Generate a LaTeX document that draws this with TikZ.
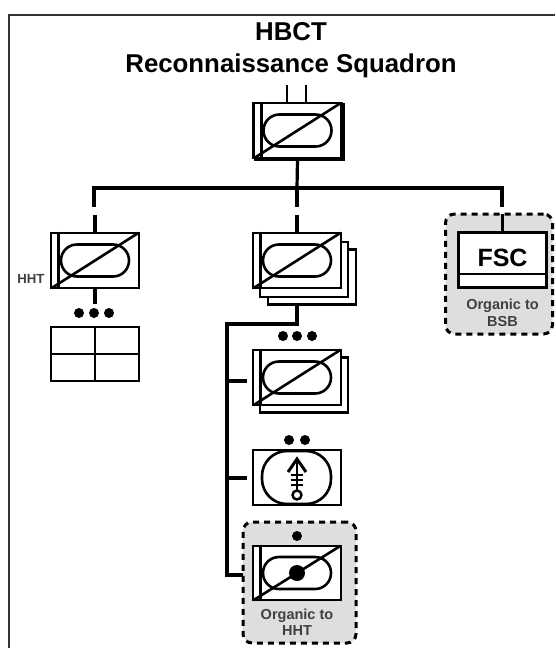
\documentclass[tikz,border=0pt]{standalone}
\usepackage{fontspec}
\setmainfont{Liberation Sans}
\usetikzlibrary{arrows.meta,positioning,calc}

\definecolor{labelgrey}{gray}{0.25}
\definecolor{organicgrey}{gray}{0.87}

\tikzset{
    unit/.style={draw, line width=2.6pt, fill=white, minimum width=88pt, minimum height=55pt, inner sep=0pt},
    link/.style={line width=3.2pt},
    symbol/.style={line width=2.6pt},
    bullet/.style={circle, fill=black, draw=none, minimum size=10pt, inner sep=0pt},
    organic/.style={draw, fill=organicgrey, line width=3pt, dash pattern=on 6pt off 5pt, rounded corners=9pt},
    small label/.style={align=center, font=\fontsize{14.5}{16.5}\selectfont\bfseries, text=labelgrey, inner sep=0pt}
}

% slashed oval with the bar at the left side
\newcommand{\reconmark}[1]{
    \draw[symbol] ($(#1.north west)+(9,0)$) -- ($(#1.south west)+(9,0)$);
    \draw[symbol, rounded corners=15.9pt] ($(#1.center)+(-34,-16)$) rectangle ($(#1.center)+(34,16)$);
    \draw[symbol, shorten >=2pt, shorten <=2pt] (#1.south west) -- (#1.north east);
}

\begin{document}
\begin{tikzpicture}[x=1pt, y=-1pt]
    \useasboundingbox (0,0) rectangle (555,648);

    % frame
    \coordinate (framea) at (555,15);
    \coordinate (frameb) at (9,648);
    \draw[line width=2.4pt, black!80] (framea) -| (frameb);

    % title
    \node[font=\fontsize{25.8}{32}\selectfont\bfseries, align=center, inner sep=0pt] (title) at (291,50) {HBCT\\Reconnaissance Squadron};

    % organic backgrounds
    \node[organic, minimum width=113pt, minimum height=121pt, inner sep=0pt] (hhtbox) at (299.5,582.5) {};
    \node[organic, minimum width=107pt, minimum height=120pt, inner sep=0pt] (fscbox) at (499,274) {};

    % squadron
    \node[unit] (sqdnback) at (299.5,132) {};
    \node[unit] (sqdn) at (297.5,130.5) {};
    \reconmark{sqdn}

    % troops
    \node[unit] (hht) at (95,260.5) {};
    \reconmark{hht}
    \node[small label, font=\fontsize{13.2}{16}\selectfont\bfseries, left=5pt of hht.south west, yshift=10pt] (hhtlabel) {HHT};
    \node[unit, minimum height=54pt] (cp) at (95,354) {};
    \draw[symbol] (cp.north) -- (cp.south) (cp.west) -- (cp.east);

    \node[unit] (troopc) at (312,277) {};
    \node[unit] (troopb) at (304,269.5) {};
    \node[unit] (troop) at (297,260.5) {};
    \reconmark{troop}

    \node[unit] (pltb) at (304,385) {};
    \node[unit] (plt) at (297,377.5) {};
    \reconmark{plt}

    \node[unit] (mortar) at (297,477.5) {};
    \draw[symbol, rounded corners=25pt] (262,451) rectangle (331,504);
    \draw[symbol] (297,458) -- (297,490);
    \draw[line width=3pt] (288,472) -- (297,459) -- (306,472);
    \foreach \y in {475,480,485} {
        \draw[line width=2pt] (291,\y) -- (303,\y);
    }
    \node[circle, draw, line width=2.4pt, fill=white, minimum size=9pt, inner sep=0pt] (mortarbase) at (297,495) {};

    \node[unit, minimum height=54pt] (scout) at (297,573) {};
    \reconmark{scout}
    \node[circle, fill=black, minimum size=16pt, inner sep=0pt] (scoutdot) at (297,573) {};

    \node[unit] (fsc) at (502.5,260) {\fontsize{25}{30}\selectfont\bfseries FSC\rule[-4pt]{0pt}{0pt}};
    \draw[symbol] ($(fsc.south west)+(0,-15)$) -- ($(fsc.south east)+(0,-15)$);

    % labels
    \node[small label, below=7pt of scout] (scoutlabel) {Organic to\\HHT};
    \node[small label, below=10pt of fsc] (fsclabel) {Organic to\\BSB};

    % echelon dots
    \foreach \n/\x/\y in {a/79/313, b/94/313, c/109/313, d/283/336, e/297/336, f/312/336, g/289/440, h/305/440} {
        \node[bullet] (dot\n) at (\x,\y) {};
    }
    \node[bullet] (dotscout) at (297,536) {};

    % wiring
    \coordinate (busc) at (297,188);
    \coordinate (busl) at (94,188);
    \coordinate (busr) at (502,188);
    \coordinate (spine) at (227,324);
    \draw[link] (sqdn.south) -- (busc);
    \draw[link, line width=3.6pt, line join=miter] (94,207) -- (busl) -- (busr) -- (502,207);
    \draw[link] (busc) -- (297,207);
    \draw[symbol] (287,85) -- (287,103) (306,85) -- (306,103);
    \draw[link] (hht.north) -- ++(0,-17);
    \draw[link] (troop.north) -- ++(0,-17);
    \draw[link] (fsc.north) -- ++(0,-17);
    \draw[link] (hht.south) -- ++(0,15);
    \coordinate (hhtstub) at (243,575);
    \draw[link] (troopc.south -| troop.south) -- (297,324) -- (spine) |- (hhtstub);
    \coordinate (pltstub) at (247,381);
    \coordinate (mortarstub) at (247,478);
    \draw[link] (spine |- pltstub) -- (pltstub);
    \draw[link] (spine |- mortarstub) -- (mortarstub);
\end{tikzpicture}
\end{document}
